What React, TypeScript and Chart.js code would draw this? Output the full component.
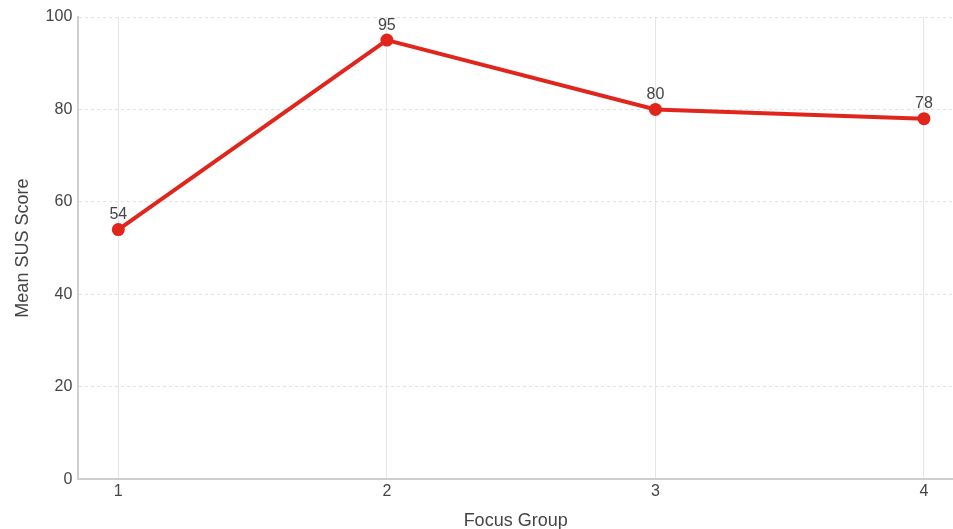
import React, { useEffect, useRef } from "react";
import { Chart, registerables } from "chart.js";

Chart.register(...registerables);

const groups = [1, 2, 3, 4];
const meanScores = [54, 95, 80, 78];
const yTicks = [0, 20, 40, 60, 80, 100];

const labelPlugin = {
  id: "pointLabels",
  afterDatasetsDraw(chart: any) {
    const ctx = chart.ctx;
    const meta = chart.getDatasetMeta(0);
    ctx.save();
    ctx.font = '16px "Liberation Sans", Arial, sans-serif';
    ctx.fillStyle = "#444444";
    ctx.textAlign = "center";
    ctx.textBaseline = "bottom";
    meta.data.forEach((pt: any, i: number) => {
      ctx.fillText(String(meanScores[i]), pt.x, pt.y - 7);
    });
    ctx.restore();
  },
};

export default function App() {
  const ref = useRef<HTMLCanvasElement>(null);
  useEffect(() => {
    if (!ref.current) return;
    const font = '"Liberation Sans", Arial, sans-serif';
    const chart = new Chart(ref.current, {
      type: "line",
      data: {
        datasets: [
          {
            data: groups.map((g, i) => ({ x: g, y: meanScores[i] })),
            borderColor: "#e0261c",
            backgroundColor: "#e0261c",
            borderWidth: 4,
            pointRadius: 6.5,
            pointHoverRadius: 6.5,
            pointBackgroundColor: "#e0261c",
            pointBorderWidth: 0,
            tension: 0,
          },
        ],
      },
      options: {
        animation: false,
        responsive: false,
        layout: { autoPadding: false, padding: { top: 17, right: 0, left: 12, bottom: -3 } },
        plugins: { legend: { display: false }, tooltip: { enabled: false } },
        scales: {
          x: {
            type: "linear",
            min: 0.851,
            max: 4.108,
            afterBuildTicks: (axis: any) => {
              axis.ticks = groups.map((v) => ({ value: v }));
            },
            afterFit: (axis: any) => {
              axis.paddingRight = 0;
              axis.paddingLeft = 0;
            },
            ticks: {
              font: { family: font, size: 16 },
              color: "#444444",
              padding: 3,
              callback: (v: any) => String(v),
            },
            grid: { color: "#e6e6e6", lineWidth: 1, drawTicks: false },
            border: { color: "#cfcfcf", width: 2 },
            title: {
              display: true,
              text: "Focus Group",
              font: { family: font, size: 18 },
              color: "#444444",
              padding: { top: 6, bottom: 0 },
            },
          },
          y: {
            min: 0,
            max: 100,
            afterBuildTicks: (axis: any) => {
              axis.ticks = yTicks.map((v) => ({ value: v }));
            },
            afterFit: (axis: any) => {
              axis.paddingTop = 0;
              axis.paddingBottom = 0;
            },
            ticks: {
              font: { family: font, size: 16 },
              color: "#444444",
              padding: 6,
            },
            grid: { color: "#e2e2e2", lineWidth: 1, drawTicks: false },
            border: { color: "#cfcfcf", width: 2, dash: [3, 3] },
            title: {
              display: true,
              text: "Mean SUS Score",
              font: { family: font, size: 18 },
              color: "#444444",
              padding: { top: 0, bottom: 6 },
            },
          },
        },
      },
      plugins: [labelPlugin],
    } as any);
    return () => chart.destroy();
  }, []);
  return (
    <div style={{ position: "fixed", left: 0, top: 0, width: 953, height: 529, background: "#fff", overflow: "hidden" }}>
      <canvas ref={ref} width={953} height={529} style={{ width: 953, height: 529 }} />
    </div>
  );
}
